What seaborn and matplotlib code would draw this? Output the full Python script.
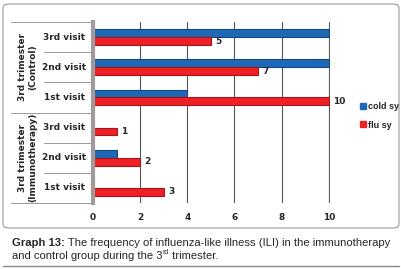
import pandas as pd
import matplotlib.pyplot as plt
import seaborn as sns
from matplotlib.patches import FancyBboxPatch
from matplotlib.lines import Line2D

groups = ["3rd trimester\n(Control)", "3rd trimester\n(Immunotherapy)"]
visits = ["3rd visit", "2nd visit", "1st visit"]
cold_sy = [10, 10, 4, 0, 1, 0]
flu_sy = [5, 7, 10, 1, 2, 3]
xticks = [0, 2, 4, 6, 8, 10]

rows = [f"{g}|{v}" for g in groups for v in visits]
df = pd.DataFrame({"row": rows * 2,
                   "series": ["cold sy"] * 6 + ["flu sy"] * 6,
                   "value": cold_sy + flu_sy})

sns.set_style("white")
plt.rcParams["font.family"] = ["DejaVu Sans"]

fig = plt.figure(figsize=(4.02, 2.69), dpi=100)
ax = fig.add_axes([93 / 402, 1 - 203 / 269, 237 / 402, 181 / 269])

colors = {"cold sy": "#1f68b5", "flu sy": "#ee2026"}
sns.barplot(data=df, x="value", y="row", hue="series", order=rows,
            hue_order=["cold sy", "flu sy"], palette=colors, width=0.52,
            orient="h", ax=ax, legend=False, saturation=1,
            edgecolor=None, linewidth=0)
for cont, ec in zip(ax.containers, ["#124a85", "#a5151a"]):
    for b in cont:
        b.set_edgecolor(ec)
        b.set_linewidth(0.8)

ax.bar_label(ax.containers[1], padding=3, fontsize=6.5, fontweight="bold")

ax.set_xlim(0, 10.05)
ax.set_ylim(5.5, -0.5)
ax.set_xticks(xticks)
ax.set_xticklabels([str(t) for t in xticks], fontsize=6.5, fontweight="bold")
ax.tick_params(axis="x", length=0, pad=7)
ax.set_yticks([])
ax.set_xlabel("")
ax.set_ylabel("")
for t in xticks[1:]:
    ax.axvline(t, color="#555555", lw=0.8, zorder=0)
for s in ["top", "right", "bottom"]:
    ax.spines[s].set_visible(False)
ax.spines["left"].set_color("#a09a9a")
ax.spines["left"].set_linewidth(3)

# row labels and separators
tr = ax.get_yaxis_transform()
for i, r in enumerate(rows):
    ax.text(-0.12, i, r.split("|")[1], transform=tr, ha="center", va="center",
            fontsize=6.5, fontweight="bold")
for i in range(7):
    x0 = -0.345 if i % 3 == 0 else -0.205
    ax.add_line(Line2D([x0, -0.01], [i - 0.5, i - 0.5], transform=tr,
                       color="#999999", lw=0.7, clip_on=False))
for k, g in enumerate(groups):
    ax.text(-0.275, 3 * k + 1, g, transform=tr, ha="center", va="center",
            rotation=90, fontsize=6.5, fontweight="bold", linespacing=1.1)

# legend
handles = [Line2D([], [], marker="s", ls="", color=colors[k], markersize=5)
           for k in colors]
fig.legend(handles, list(colors), loc="center left",
           bbox_to_anchor=(354 / 402, 1 - 116 / 269), frameon=False,
           prop={"size": 6.5, "weight": "bold", "family": "Liberation Sans"},
           handletextpad=0.1, labelspacing=1.0, borderpad=0, handlelength=1)

# chart frame
fig.patches.append(FancyBboxPatch((3 / 402, 1 - 228 / 269), 396 / 402, 224 / 269,
                                  boxstyle="round,pad=0,rounding_size=0.015",
                                  transform=fig.transFigure, fill=False,
                                  ec="#999999", lw=0.8))
fig.add_artist(Line2D([3 / 402, 399 / 402], [1 - 266 / 269] * 2,
                      transform=fig.transFigure, color="#888888", lw=1))

# caption
cf = ["Liberation Sans", "DejaVu Sans"]
fs = 8.1
t1 = fig.text(12 / 402, 1 - 243 / 269, "Graph 13:", fontsize=fs,
              fontweight="bold", family=cf, va="center")
ax.annotate(" The frequency of influenza-like illness (ILI) in the immunotherapy",
            xy=(1, 0), xycoords=t1, va="bottom", fontsize=fs, family=cf)
t2 = fig.text(12 / 402, 1 - 256 / 269, "and control group during the 3",
              fontsize=fs, family=cf, va="center")
t3 = ax.annotate("rd", xy=(1, 0.55), xycoords=t2, va="bottom", fontsize=5,
                 family=cf)
ax.annotate(" trimester.", xy=(1, 0), xycoords=(t3, t2), va="bottom",
            fontsize=fs, family=cf)

fig.savefig("out.png", dpi=100)
